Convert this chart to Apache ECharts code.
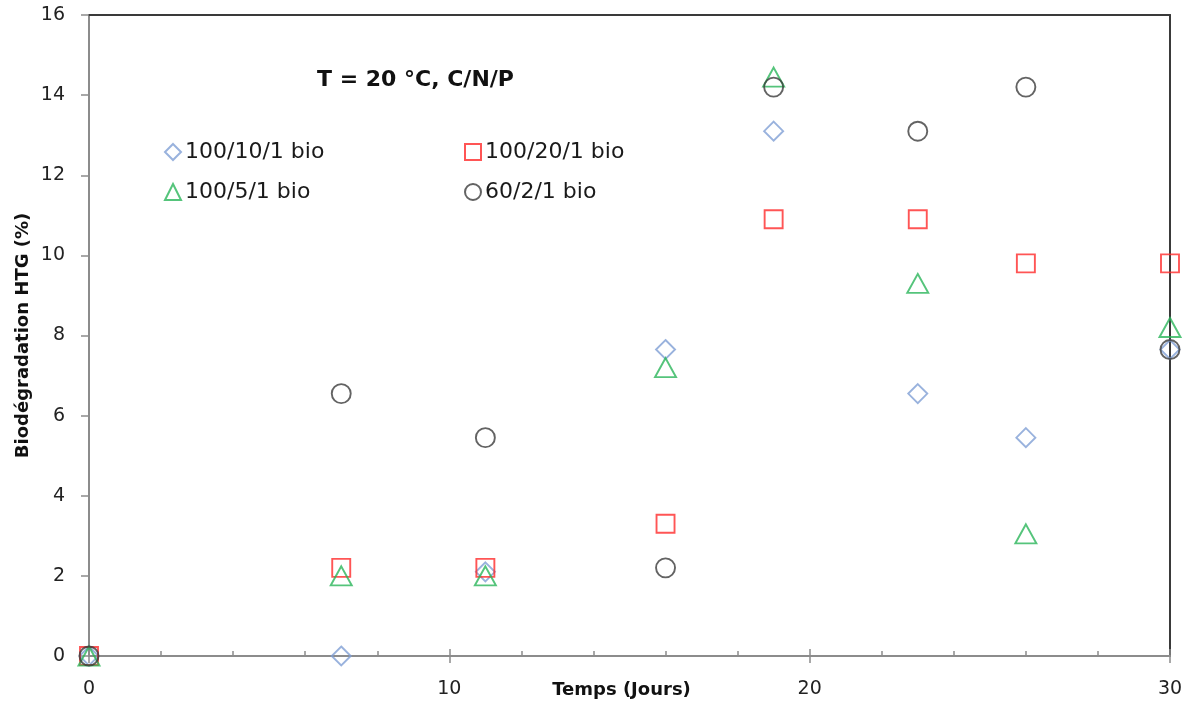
<!DOCTYPE html>
<html>
<head>
<meta charset="utf-8">
<script src="https://cdn.jsdelivr.net/npm/echarts@6/dist/echarts.min.js"></script>
<style>
html,body{margin:0;padding:0;background:#fff;}
#chart{width:1192px;height:704px;}
</style>
</head>
<body>
<div id="chart"></div>
<script>
// Sampling days and measured biodegradation (%) for each C/N/P ratio
const days = [0, 7, 11, 16, 19, 23, 26, 30];
const bio_100_10_1 = [0, 0, 2.1, 7.65, 13.1, 6.55, 5.45, 7.65];
const bio_100_20_1 = [0, 2.2, 2.2, 3.3, 10.9, 10.9, 9.8, 9.8];
const bio_100_5_1 = [0, 2.0, 2.0, 7.2, 14.45, 9.3, 3.05, 8.2];
const bio_60_2_1 = [0, 6.55, 5.45, 2.2, 14.2, 13.1, 14.2, 7.65];
const seriesNames = ['100/10/1 bio', '100/20/1 bio', '100/5/1 bio', '60/2/1 bio'];
const yTicks = [0, 2, 4, 6, 8, 10, 12, 14, 16];
const xTicks = [0, 10, 20, 30];

const FONT = 'DejaVu Sans';
const AXIS_GREY = '#8c8c8c';
const pairs = ys => days.map((d, i) => [d, ys[i]]);

function scatter(name, ys, symbol, size, color) {
  return {
    name: name,
    type: 'scatter',
    data: pairs(ys),
    symbol: symbol,
    symbolSize: size,
    itemStyle: { color: 'rgba(0,0,0,0)', borderColor: color, borderWidth: 1.9 },
    emphasis: { disabled: true },
    z: 5
  };
}

const chart = echarts.init(document.getElementById('chart'), null, { renderer: 'canvas' });

const legendBase = {
  orient: 'vertical',
  itemGap: 18,
  itemWidth: 16,
  itemHeight: 16,
  textStyle: { fontFamily: FONT, fontSize: 22, color: '#1a1a1a', padding: [0, 0, 0, -1] },
  selectedMode: false
};

const gridBox = { left: 89, right: 22, top: 15, bottom: 48, containLabel: false, outerBoundsMode: 'none' };

chart.setOption({
  animation: false,
  title: {
    text: 'T = 20 °C, C/N/P',
    left: 312,
    top: 64,
    textStyle: { fontFamily: FONT, fontSize: 22, fontWeight: 'bold', color: '#111' }
  },
  legend: [
    Object.assign({}, legendBase, { data: [seriesNames[0], seriesNames[2]], left: 159, top: 136 }),
    Object.assign({}, legendBase, { data: [seriesNames[1], seriesNames[3]], left: 459, top: 136 })
  ],
  grid: [Object.assign({}, gridBox), Object.assign({}, gridBox)],
  xAxis: [
    {
      type: 'value', gridIndex: 0, min: 0, max: 30, interval: 10, position: 'bottom',
      name: 'Temps (Jours)', nameLocation: 'middle', nameGap: 25, nameMoveOverlap: false,
      nameTextStyle: { fontFamily: FONT, fontSize: 18, fontWeight: 'bold', color: '#111', padding: [0, 16, 0, 0] },
      axisLine: { show: true, onZero: false, lineStyle: { color: AXIS_GREY, width: 2 } },
      axisTick: { show: true, inside: true, length: 7, lineStyle: { color: AXIS_GREY, width: 1.5 } },
      minorTick: { show: true, splitNumber: 5, length: 5, lineStyle: { color: AXIS_GREY, width: 1.5 } },
      axisLabel: {
        margin: 24, fontFamily: FONT, fontSize: 19, color: '#222',
        formatter: v => (xTicks.indexOf(v) >= 0 ? String(v) : '')
      },
      splitLine: { show: false }
    },
    {
      type: 'value', gridIndex: 0, min: 0, max: 30, interval: 10, position: 'top',
      axisLine: { show: true, onZero: false, lineStyle: { color: '#3a3a3a', width: 2 } },
      axisTick: { show: false }, axisLabel: { show: false }, splitLine: { show: false }
    },
    {
      // outward half of the major x ticks
      type: 'value', gridIndex: 1, min: 0, max: 30, interval: 10, position: 'bottom',
      axisLine: { show: false, onZero: false },
      axisTick: { show: true, length: 7, lineStyle: { color: AXIS_GREY, width: 1.5 } },
      axisLabel: { show: false }, splitLine: { show: false }
    }
  ],
  yAxis: [
    {
      type: 'value', gridIndex: 0, min: 0, max: 16, interval: 2, position: 'left',
      name: 'Biodégradation HTG (%)', nameLocation: 'middle', nameGap: 57, nameMoveOverlap: false,
      nameTextStyle: { fontFamily: FONT, fontSize: 18, fontWeight: 'bold', color: '#111' },
      axisLine: { show: true, onZero: false, lineStyle: { color: AXIS_GREY, width: 2 } },
      axisTick: { show: true, length: 8, lineStyle: { color: AXIS_GREY, width: 1.5 } },
      axisLabel: {
        margin: 24, fontFamily: FONT, fontSize: 19, color: '#222',
        formatter: v => (yTicks.indexOf(v) >= 0 ? String(v) : '')
      },
      splitLine: { show: false }
    },
    {
      type: 'value', gridIndex: 0, min: 0, max: 16, interval: 2, position: 'right',
      axisLine: { show: true, onZero: false, lineStyle: { color: '#3a3a3a', width: 2 } },
      axisTick: { show: false }, axisLabel: { show: false }, splitLine: { show: false }
    },
    {
      type: 'value', gridIndex: 1, min: 0, max: 16, show: false
    }
  ],
  series: [
    scatter(seriesNames[0], bio_100_10_1, 'diamond', [19, 19], '#7f9fd4'),
    scatter(seriesNames[1], bio_100_20_1, 'rect', [18, 18], '#ff2a2a'),
    scatter(seriesNames[2], bio_100_5_1, 'triangle', [21, 19], '#2bb55a'),
    scatter(seriesNames[3], bio_60_2_1, 'circle', [19, 19], '#3c3c3c')
  ]
});
</script>
</body>
</html>
